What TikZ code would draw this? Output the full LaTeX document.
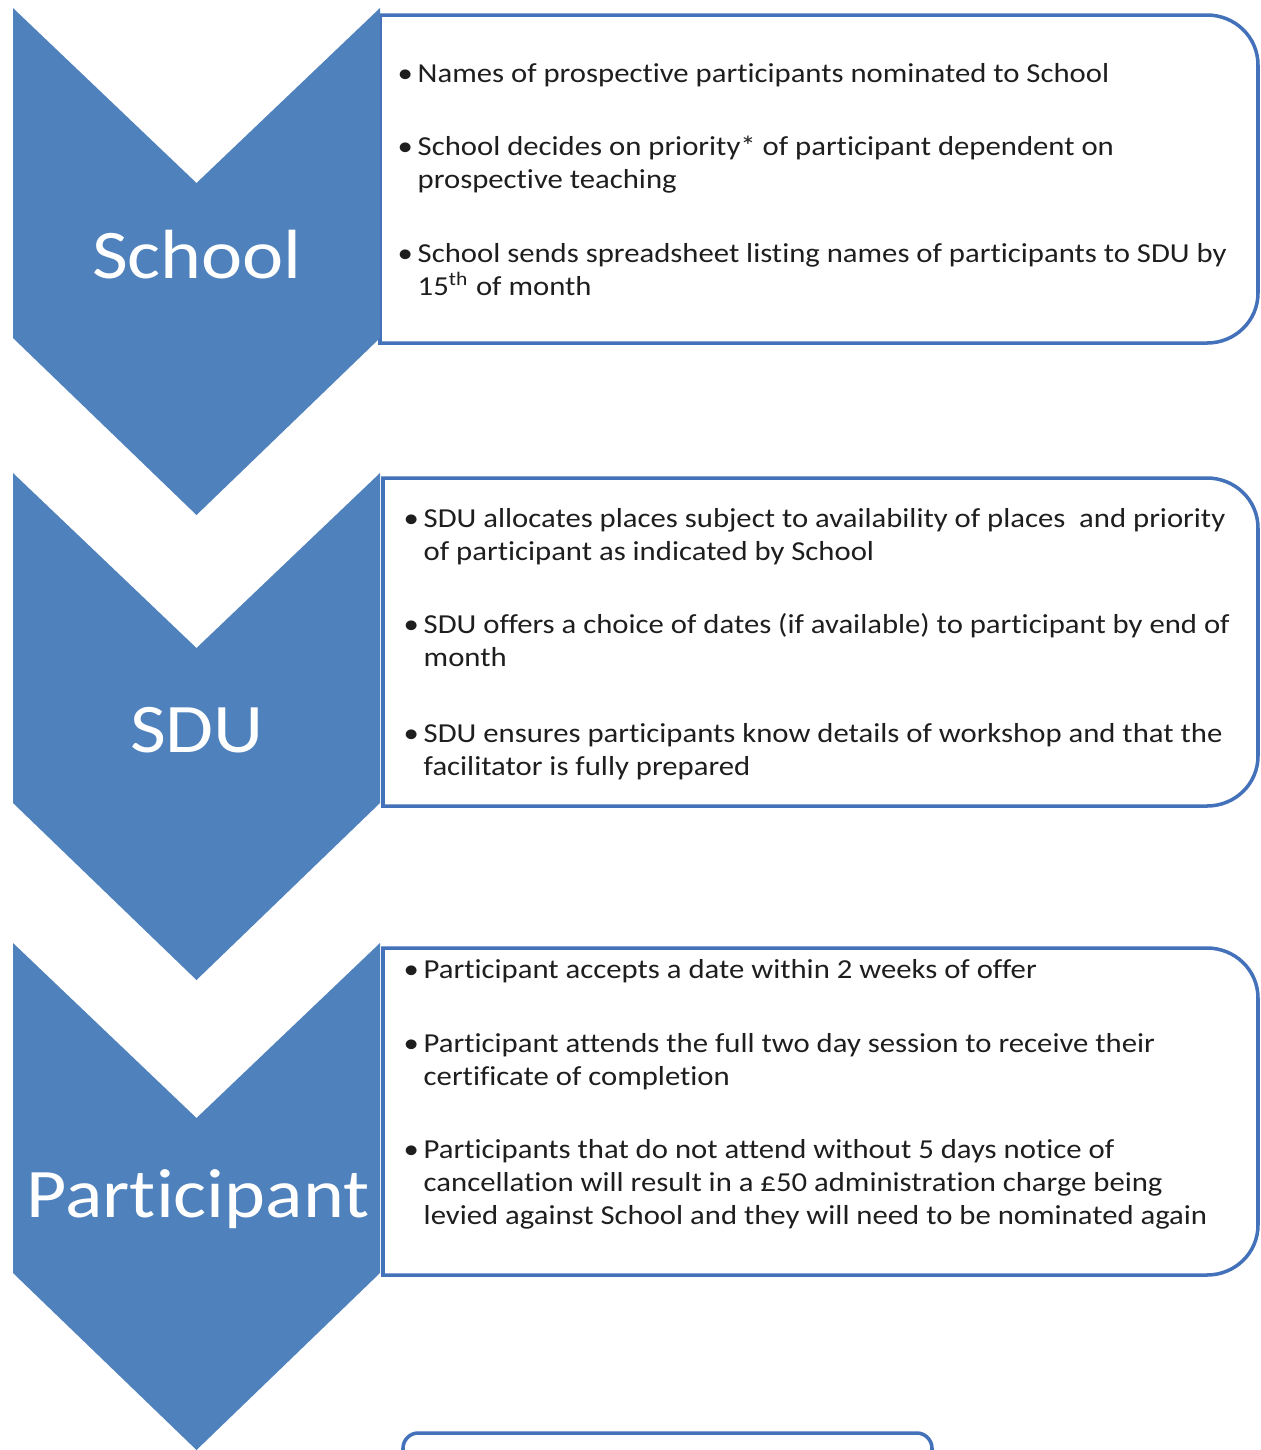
\documentclass[tikz,border=0pt]{standalone}
\usepackage{fontspec}
\setmainfont{Carlito}[FakeStretch=1.12, Ligatures=NoCommon]
\usetikzlibrary{calc}

\definecolor{chevblue}{RGB}{79,129,189}
\definecolor{boxblue}{RGB}{68,114,186}
\definecolor{bodytext}{RGB}{30,30,30}

% bullet followed by one or more lines set flush left
\newcommand{\bitem}[1]{\makebox[0.2cm][l]{\textbullet}\begin{tabular}[t]{@{}l@{}}#1\end{tabular}}

\tikzset{
  stage label/.style={anchor=base, inner sep=0pt, text=white, font=\fontsize{19.8}{24}\selectfont},
  item text/.style={anchor=base west, inner sep=0pt, text=bodytext, font=\fontsize{7.8}{9.39}\selectfont},
  flow box/.style={draw=boxblue, line width=1pt, fill=white},
  chevron/.style={fill=chevblue},
}

\begin{document}
\begin{tikzpicture}[x=0.01cm, y=-0.01cm]

\useasboundingbox (0,0) rectangle (1261,1450);
\clip (0,0) rectangle (1261,1450);

% Boxes, square on the left and rounded on the right (top/bottom/left edge)
\foreach \t\b\l in {15/343/380, 478/806/383, 948/1275/383} {
  \draw[flow box] (\l,\t) -- (1207,\t)
    .. controls (1235,\t) and (1258,\t+22) .. (1258,\t+50)
    -- (1258,\b-50)
    .. controls (1258,\b-22) and (1235,\b) .. (1207,\b)
    -- (\l,\b) -- cycle;
}

% Last box, only its top is in view
\draw[flow box] (403,1470) -- (403,1448)
  .. controls (403,1440) and (410,1433) .. (418,1433) -- (917,1433)
  .. controls (925,1433) and (932,1440) .. (932,1448) -- (932,1470);

% Chevrons, given by the y of their top corners
\foreach \y in {8, 473, 943} {
  \fill[chevron] (13,\y) -- (196.5,\y+175) -- (380,\y) -- (380,\y+330)
    -- (196.5,\y+507) -- (13,\y+330) -- cycle;
}

% Stage names
\node[stage label] (school) at (197,278) {School};
\node[stage label] (sdu) at (197,752) {SDU};
\node[stage label] (participant) at (198,1217) {Participant};

% School
\node[item text] (school1) at (397,82) {\bitem{Names of prospective participants nominated to School}};
\node[item text] (school2) at (397,155) {\bitem{School decides on priority* of participant dependent on\\ prospective teaching}};
\node[item text] (school3) at (397,262) {\bitem{School sends spreadsheet listing names of participants to SDU by\\ 15\textsuperscript{th} of month}};

% SDU
\node[item text] (sdu1) at (403,527) {\bitem{SDU allocates places subject to availability of places\ \ and priority\\ of participant as indicated by School}};
\node[item text] (sdu2) at (403,633) {\bitem{SDU offers a choice of dates (if available) to participant by end of\\ month}};
\node[item text] (sdu3) at (403,742) {\bitem{SDU ensures participants know details of workshop and that the\\ facilitator is fully prepared}};

% Participant
\node[item text] (part1) at (403,978) {\bitem{Participant accepts a date within 2 weeks of offer}};
\node[item text] (part2) at (403,1052) {\bitem{Participant attends the full two day session to receive their\\ certificate of completion}};
\node[item text] (part3) at (403,1158) {\bitem{Participants that do not attend without 5 days notice of\\ cancellation will result in a £50 administration charge being\\ levied against School and they will need to be nominated again}};

\end{tikzpicture}
\end{document}
